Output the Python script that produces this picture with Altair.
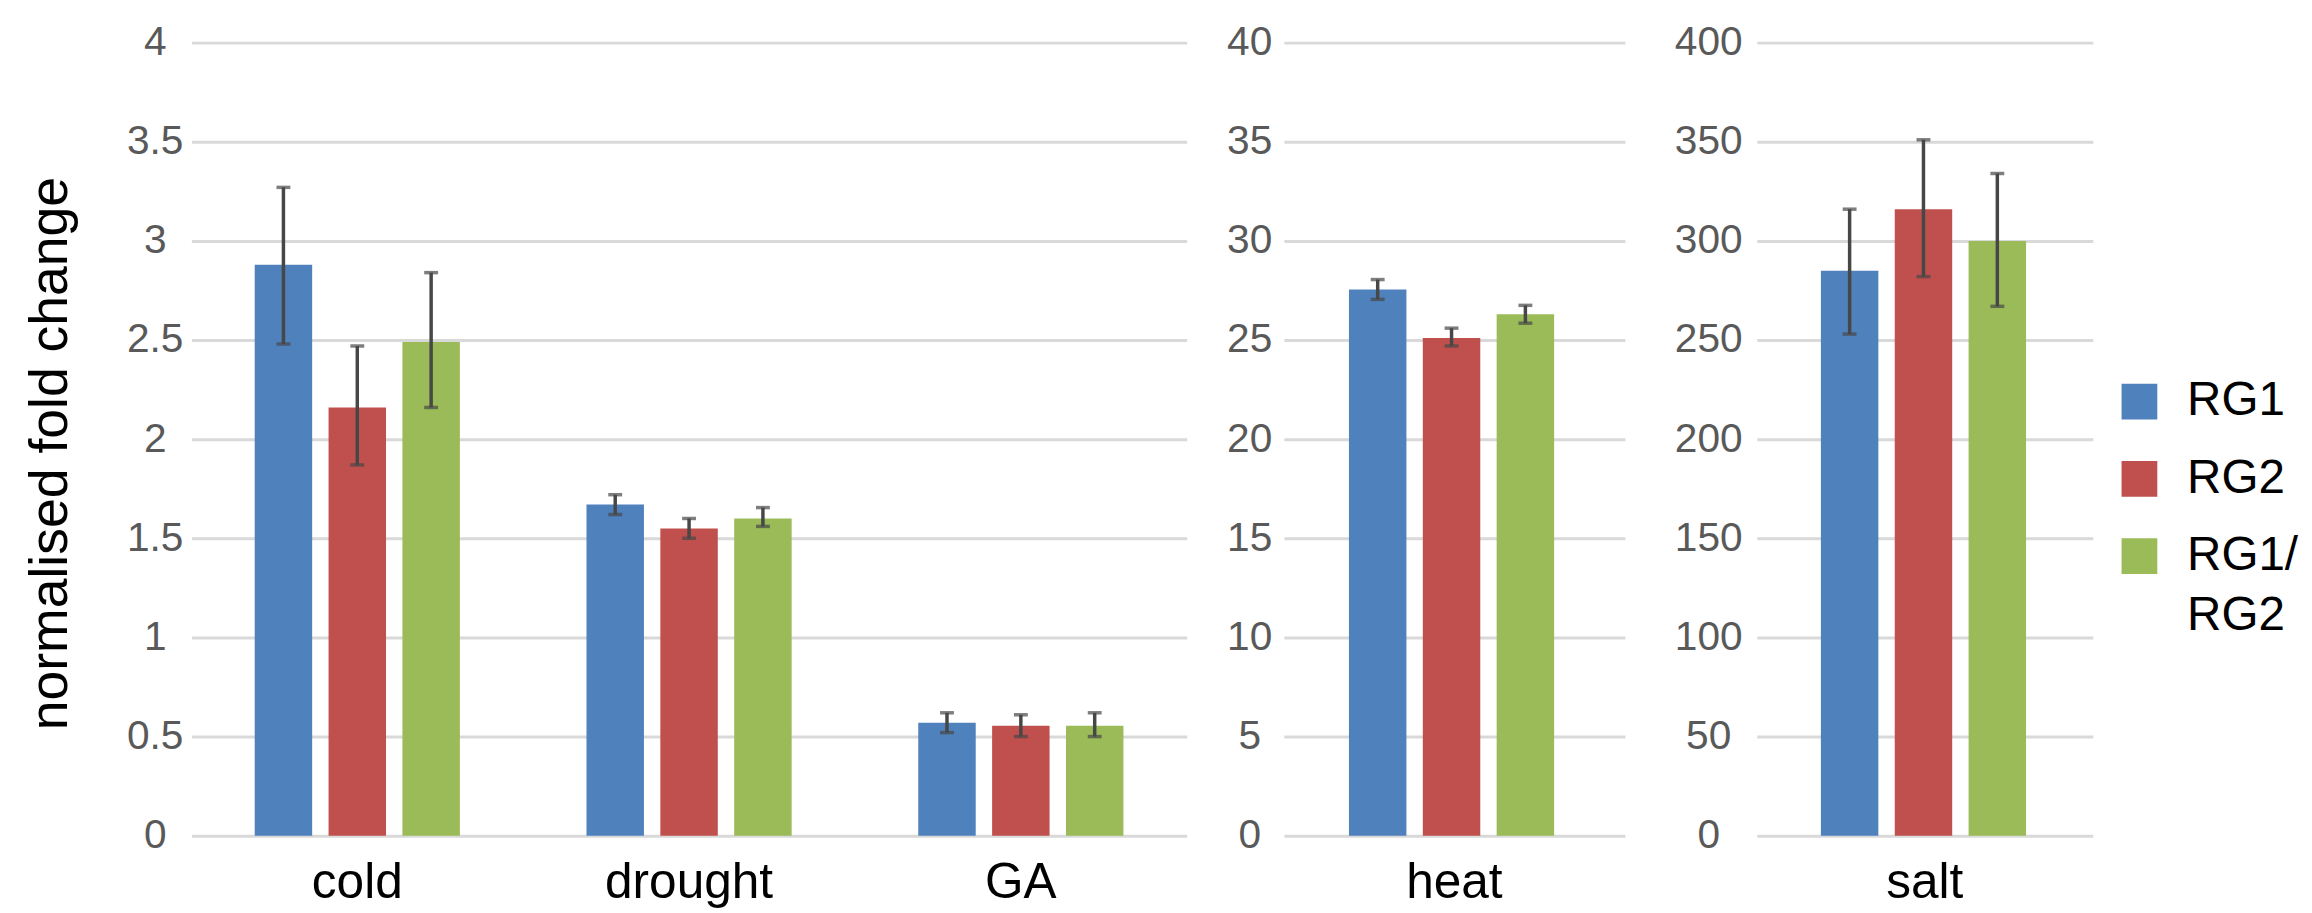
import altair as alt
import pandas as pd

categories = ["cold", "drought", "GA", "heat", "salt"]
series = ["RG1", "RG2", "RG1/RG2"]
colors = ["#4F81BD", "#C0504D", "#9BBB59"]

rg1 = [2.88, 1.67, 0.57, 27.55, 285]
rg2 = [2.16, 1.55, 0.555, 25.1, 316]
rg12 = [2.49, 1.60, 0.555, 26.3, 300]
rg1_lo = [2.48, 1.62, 0.52, 27.05, 253]
rg1_hi = [3.27, 1.72, 0.62, 28.05, 316]
rg2_lo = [1.87, 1.50, 0.50, 24.7, 282]
rg2_hi = [2.47, 1.60, 0.61, 25.6, 351]
rg12_lo = [2.16, 1.56, 0.50, 25.85, 267]
rg12_hi = [2.84, 1.655, 0.62, 26.75, 334]

rows = []
for s, vals, los, his in [("RG1", rg1, rg1_lo, rg1_hi),
                          ("RG2", rg2, rg2_lo, rg2_hi),
                          ("RG1/RG2", rg12, rg12_lo, rg12_hi)]:
    for c, v, lo, hi in zip(categories, vals, los, his):
        rows.append({"category": c, "series": s, "value": v, "lo": lo, "hi": hi})
df = pd.DataFrame(rows)

FONT = "Liberation Sans"
ERR = "#474747"


def panel(cats, domain, step, width, label_pad, title=None):
    ticks = [round(i * step, 4) for i in range(int(round(domain[1] / step)) + 1)]
    base = alt.Chart(df).transform_filter(
        alt.FieldOneOfPredicate(field="category", oneOf=cats))
    xenc = alt.X("category:N", sort=cats, title=None,
                 scale=alt.Scale(paddingInner=0.3816, paddingOuter=0.1908),
                 axis=alt.Axis(labelFontSize=50, labelColor="#000000", labelFont=FONT,
                               labelPadding=22, domain=False, ticks=False, labelAngle=0,
                               grid=False))
    xo = alt.XOffset("series:N", sort=series,
                     scale=alt.Scale(domain=series, paddingInner=0.222, paddingOuter=0))
    yscale = alt.Scale(domain=domain, nice=False, zero=True)
    yaxis_kw = dict(values=ticks, format="~r", grid=True, gridColor="#D9D9D9", gridWidth=3,
                    domain=False, ticks=False, labelFontSize=41, labelColor="#595959",
                    labelFont=FONT, labelPadding=label_pad, labelAlign="center")
    if title:
        yaxis = alt.Axis(title=title, titleFontSize=54, titleFont=FONT, titleFontWeight="normal",
                         titleColor="#000000", titlePadding=49, titleY=414, **yaxis_kw)
    else:
        yaxis = alt.Axis(title=None, **yaxis_kw)
    color = alt.Color(
        "series:N", sort=series,
        scale=alt.Scale(domain=series, range=colors),
        legend=alt.Legend(title=None, orient="none", legendX=1941, legendY=338,
                          symbolType="square", symbolSize=1300, symbolStrokeWidth=0,
                          labelFontSize=48, labelFont=FONT, labelColor="#000000",
                          labelOffset=24, rowPadding=30, labelLimit=400,
                          labelExpr="datum.label == 'RG1/RG2' ? ['RG1/', 'RG2'] : datum.label"))
    bars = base.mark_bar().encode(
        x=xenc, xOffset=xo,
        y=alt.Y("value:Q", scale=yscale, axis=yaxis),
        color=color)
    rule = base.mark_rule(color=ERR, strokeWidth=3.5).encode(
        x=xenc, xOffset=xo,
        y=alt.Y("lo:Q", scale=yscale, axis=yaxis), y2="hi:Q")
    cap_lo = base.mark_tick(color=ERR, size=14, thickness=3.5).encode(
        x=xenc, xOffset=xo, y=alt.Y("lo:Q", scale=yscale, axis=yaxis))
    cap_hi = base.mark_tick(color=ERR, size=14, thickness=3.5).encode(
        x=xenc, xOffset=xo, y=alt.Y("hi:Q", scale=yscale, axis=yaxis))
    return alt.layer(bars, rule, cap_lo, cap_hi).properties(width=width, height=800)


p1 = panel(["cold", "drought", "GA"], [0, 4], 0.5, 1004, 37, title="normalised fold change")
p2 = panel(["heat"], [0, 40], 5, 344, 35)
p3 = panel(["salt"], [0, 400], 50, 339, 49)

inner = alt.hconcat(p2, p3, spacing=49).resolve_scale(y="independent", x="independent")
chart = alt.hconcat(p1, inner, spacing=40).resolve_scale(
    y="independent", x="independent"
).properties(
    padding={"left": 16, "top": 10, "right": 5, "bottom": 0},
    background="#ffffff"
).configure(
    view=alt.ViewConfig(stroke=None),
    style={"guide-label": {"lineHeight": 60}}
)

chart.save("out.html", embed_options={"renderer": "svg", "actions": False})
